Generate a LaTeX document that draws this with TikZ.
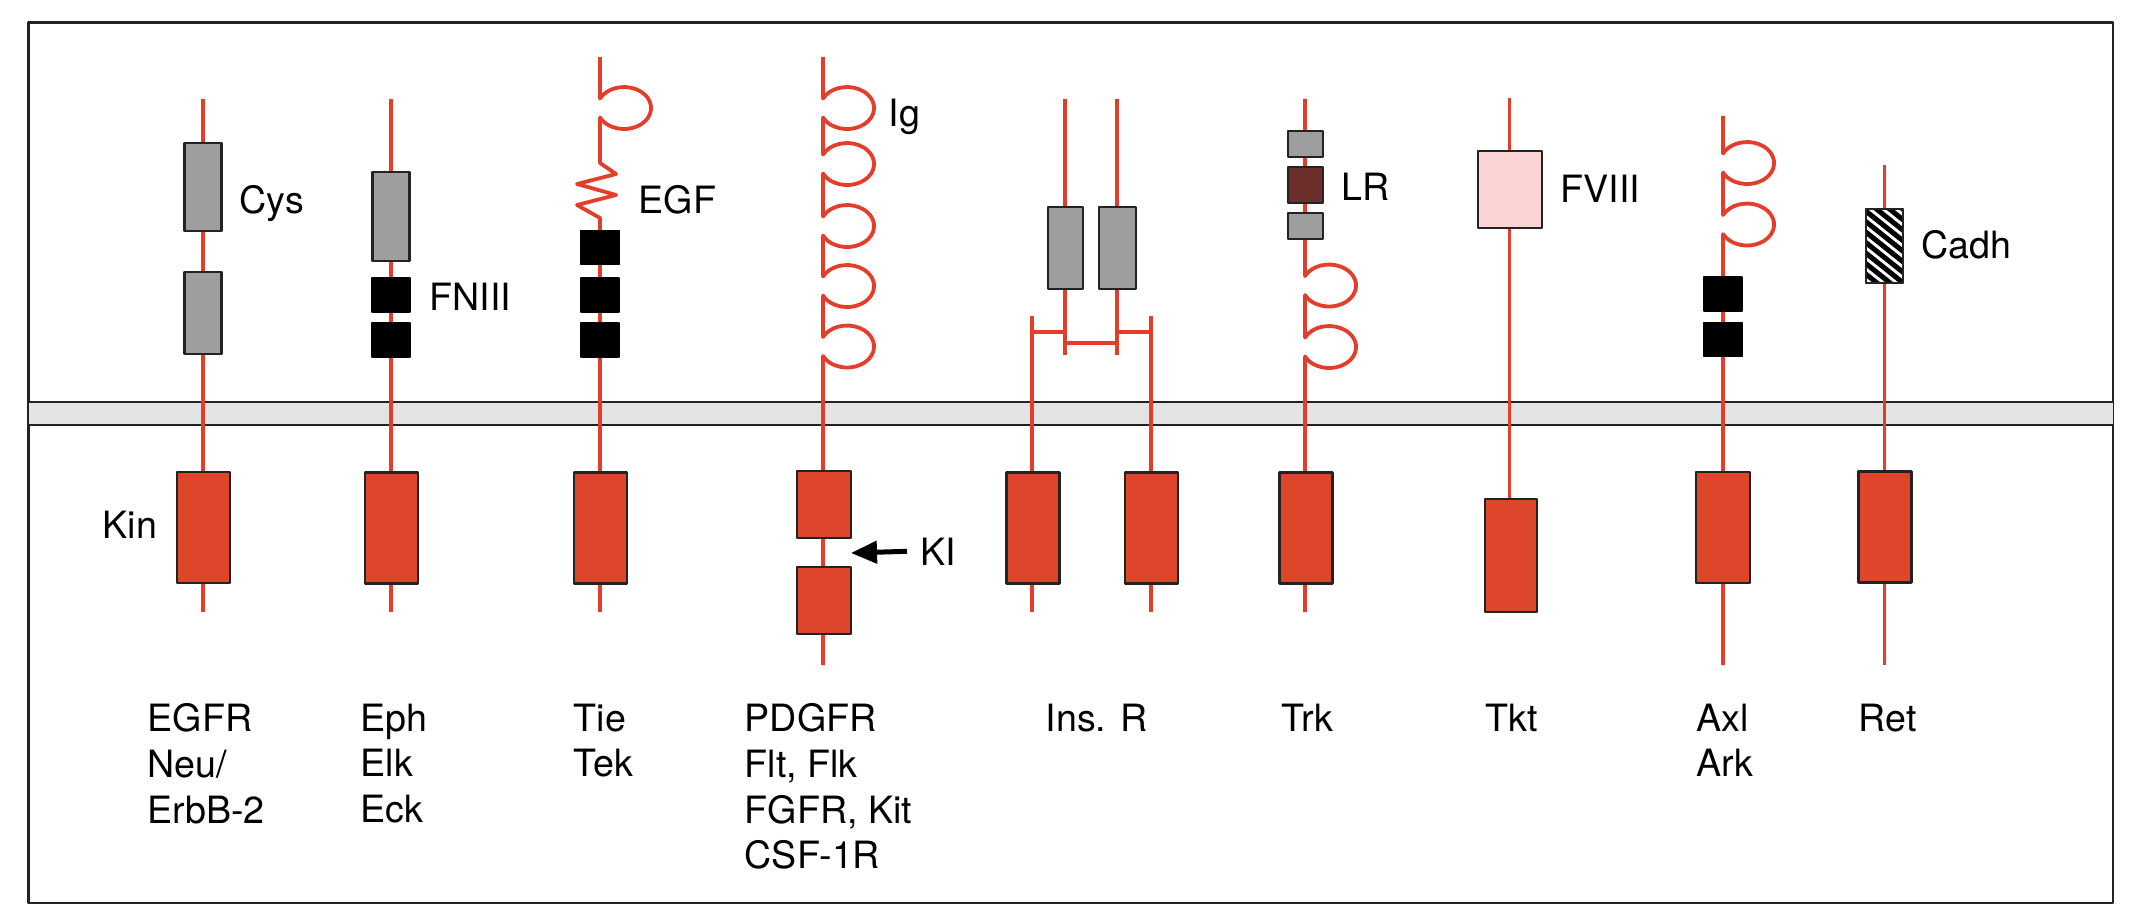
\documentclass[tikz,border=0pt]{standalone}
\usepackage{fontspec}
\setmainfont{TeX Gyre Heros}
\usepackage{tikz}
\usetikzlibrary{arrows.meta}

\definecolor{chainred}{RGB}{228,62,42}
\definecolor{kinred}{RGB}{222,70,44}
\definecolor{cysgray}{RGB}{158,158,158}
\definecolor{lrbrown}{RGB}{108,46,42}
\definecolor{fviiipink}{RGB}{250,212,212}
\definecolor{membgray}{RGB}{228,228,228}
\definecolor{edge}{RGB}{35,35,35}

\begin{document}
\begin{tikzpicture}[x = 0.25pt, y = -0.25pt, line join = round,
  chain/.style = {line width = 0.95pt, color = chainred},
  kin/.style = {draw = edge, fill = kinred, line width = 0.55pt, inner sep = 0pt, outer sep = 0pt,
    minimum width = 13.25pt, minimum height = 27.75pt},
  cys/.style = {draw = edge, fill = cysgray, line width = 0.55pt, inner sep = 0pt, outer sep = 0pt,
    minimum width = 9.25pt},
  fn/.style = {draw = black, fill = black, inner sep = 0pt, outer sep = 0pt,
    minimum width = 9.5pt, minimum height = 8.5pt},
  lab/.style = {font = \fontsize{9.4pt}{11.4pt}\selectfont, inner sep = 0pt, align = left},
  igloop/.style = {start angle = -153, end angle = 153, x radius = 27, y radius = 21}]

\useasboundingbox (0, 0) rectangle (2136, 920);
\draw[line width = 0.65pt, color = edge] (28.5, 22.7) rectangle (2113, 903);
\fill[membgray] (28.5, 402) rectangle (2113, 425);
\draw[line width = 0.65pt, color = edge] (28.5, 402) -- (2113, 402) (28.5, 425) -- (2113, 425);

% EGFR
\coordinate (egfr top) at (203, 99);
\coordinate (egfr end) at (203, 612);
\draw[chain] (egfr top) -- (egfr end);
\node[cys, minimum height = 22pt] (egfr cys1) at (203, 187) {};
\node[cys, minimum height = 20.5pt] (egfr cys2) at (203, 313) {};
\node[kin] (egfr kin) at (203.5, 527.5) {};
\node[lab, anchor = base west] (cys) at (239, 213) {Cys};
\node[lab, anchor = base east] (kin) at (158, 538) {Kin};

% Eph
\coordinate (eph top) at (391, 99);
\coordinate (eph end) at (391, 612);
\draw[chain] (eph top) -- (eph end);
\node[cys, minimum height = 22.25pt] (eph cys) at (391, 216.5) {};
\foreach \y [count = \i] in {295, 340}
  \node[fn] (eph fn\i) at (391, \y) {};
\node[kin] (eph kin) at (391.5, 528) {};
\node[lab, anchor = base west] (fniii) at (429, 310) {FNIII};

% Tie
\coordinate (tie top) at (600, 57);
\coordinate (tie end) at (600, 612);
\draw[chain] (tie top) -- (600, 98.5) arc[igloop] -- (600, 163) -- (616, 174) -- (577, 184)
  -- (616, 195) -- (577, 205) -- (600, 218) -- (tie end);
\foreach \y [count = \i] in {247.5, 295, 340}
  \node[fn] (tie fn\i) at (600, \y) {};
\node[kin] (tie kin) at (600.5, 528) {};
\node[lab, anchor = base west] (egf) at (638, 213) {EGF};

% PDGFR
\coordinate (pdgfr top) at (823, 57);
\coordinate (pdgfr end) at (823, 665);
\draw[chain] (pdgfr top) \foreach \c in {108, 164, 226, 286, 346.5} { -- (823, \c - 9.5) arc[igloop] }
  -- (pdgfr end);
\node[kin, minimum width = 13.5pt, minimum height = 16.75pt] (pdgfr kin1) at (824, 504.5) {};
\node[kin, minimum width = 13.5pt, minimum height = 16.75pt] (pdgfr kin2) at (824, 600.5) {};
\node[lab, anchor = base west] (ig) at (888, 127) {Ig};
\node[lab, anchor = base west] (ki) at (920, 565) {KI};
\coordinate (ki tip) at (851, 553);
\draw[-{Triangle[length = 6.5pt, width = 5.5pt]}, line width = 1.25pt] ([xshift = -3.25pt]ki.west) -- (ki tip);

% Ins. R
\coordinate (insr a top) at (1065, 99);
\coordinate (insr a end) at (1065, 355);
\coordinate (insr b top) at (1117, 99);
\coordinate (insr b end) at (1117, 355);
\coordinate (insr c top) at (1032, 316);
\coordinate (insr c end) at (1032, 612);
\coordinate (insr d top) at (1151, 316);
\coordinate (insr d end) at (1151, 612);
\draw[chain] (insr a top) -- (insr a end) (insr b top) -- (insr b end)
  (insr c top) -- (insr c end) (insr d top) -- (insr d end);
\draw[chain] (insr c top |- 0, 332) -- (insr a top |- 0, 332)
  (insr b top |- 0, 332) -- (insr d top |- 0, 332)
  (insr a top |- 0, 343) -- (insr b top |- 0, 343);
\node[cys, minimum width = 8.75pt, minimum height = 20.5pt] (insr cys1) at (1065.5, 248) {};
\node[cys, minimum height = 20.5pt] (insr cys2) at (1117.5, 248) {};
\node[kin] (insr kin1) at (1033, 528) {};
\node[kin] (insr kin2) at (1151.5, 528) {};

% Trk
\coordinate (trk top) at (1305, 99);
\coordinate (trk end) at (1305, 612);
\draw[chain] (trk top) \foreach \c in {285.5, 347} { -- (1305, \c - 9.5) arc[igloop] } -- (trk end);
\node[cys, minimum width = 8.75pt, minimum height = 6.5pt] (trk cys1) at (1305.5, 144) {};
\node[cys, minimum width = 8.75pt, minimum height = 9pt, fill = lrbrown] (trk lr) at (1305.5, 185) {};
\node[cys, minimum width = 8.75pt, minimum height = 6.5pt] (trk cys2) at (1305.5, 226) {};
\node[kin] (trk kin) at (1306, 528) {};
\node[lab, anchor = base west] (lr) at (1341, 200) {LR};

% Tkt
\coordinate (tkt top) at (1509.5, 98);
\coordinate (tkt end) at (1509.5, 612);
\draw[chain] (tkt top) -- (tkt end);
\node[cys, fill = fviiipink, minimum width = 16pt, minimum height = 19.25pt] (tkt fviii) at (1509.6, 189.5) {};
\node[kin, minimum width = 13.1pt, minimum height = 28.25pt] (tkt kin) at (1511, 555.5) {};
\node[lab, anchor = base west] (fviii) at (1560, 202) {FVIII};

% Axl
\coordinate (axl top) at (1723, 116);
\coordinate (axl end) at (1723, 665);
\draw[chain] (axl top) \foreach \c in {163, 224.5} { -- (1723, \c - 9.5) arc[igloop] } -- (axl end);
\foreach \y [count = \i] in {294, 339.5}
  \node[fn] (axl fn\i) at (1723, \y) {};
\node[kin, minimum width = 13.5pt] (axl kin) at (1723, 527.5) {};

% Ret
\coordinate (ret top) at (1884.5, 165);
\coordinate (ret end) at (1884.5, 665);
\draw[chain] (ret top) -- (ret end);
\node[cys, fill = white, minimum height = 18.5pt] (ret cadh) at (1884.5, 246) {};
\begin{scope}
  \clip (ret cadh.south west) rectangle (ret cadh.north east);
  \foreach \k in {0, ..., 12}
    \draw[line width = 1.25pt] (1862, 166 + 10.5*\k) -- ++(48, 38.4);
\end{scope}
\draw[line width = 0.55pt, color = edge] (ret cadh.south west) rectangle (ret cadh.north east);
\node[kin] (ret kin) at (1885, 527) {};
\node[lab, anchor = base west] (cadh) at (1921, 258) {Cadh};

% receptor names
\node[lab, anchor = north west] (egfr name) at (147, 703) {EGFR\\Neu/\\ErbB-2};
\node[lab, anchor = north west] (eph name) at (360, 703) {Eph\\Elk\\Eck};
\node[lab, anchor = north west] (tie name) at (573, 703) {Tie\\Tek};
\node[lab, anchor = north west] (pdgfr name) at (744, 703) {PDGFR\\Flt, Flk\\FGFR, Kit\\CSF-1R};
\node[lab, anchor = north west] (insr name) at (1045, 703) {Ins. R};
\node[lab, anchor = north west] (trk name) at (1281, 703) {Trk};
\node[lab, anchor = north west] (tkt name) at (1484.5, 703) {Tkt};
\node[lab, anchor = north west] (axl name) at (1696, 703) {Axl\\Ark};
\node[lab, anchor = north west] (ret name) at (1858, 703) {Ret};
\end{tikzpicture}
\end{document}
